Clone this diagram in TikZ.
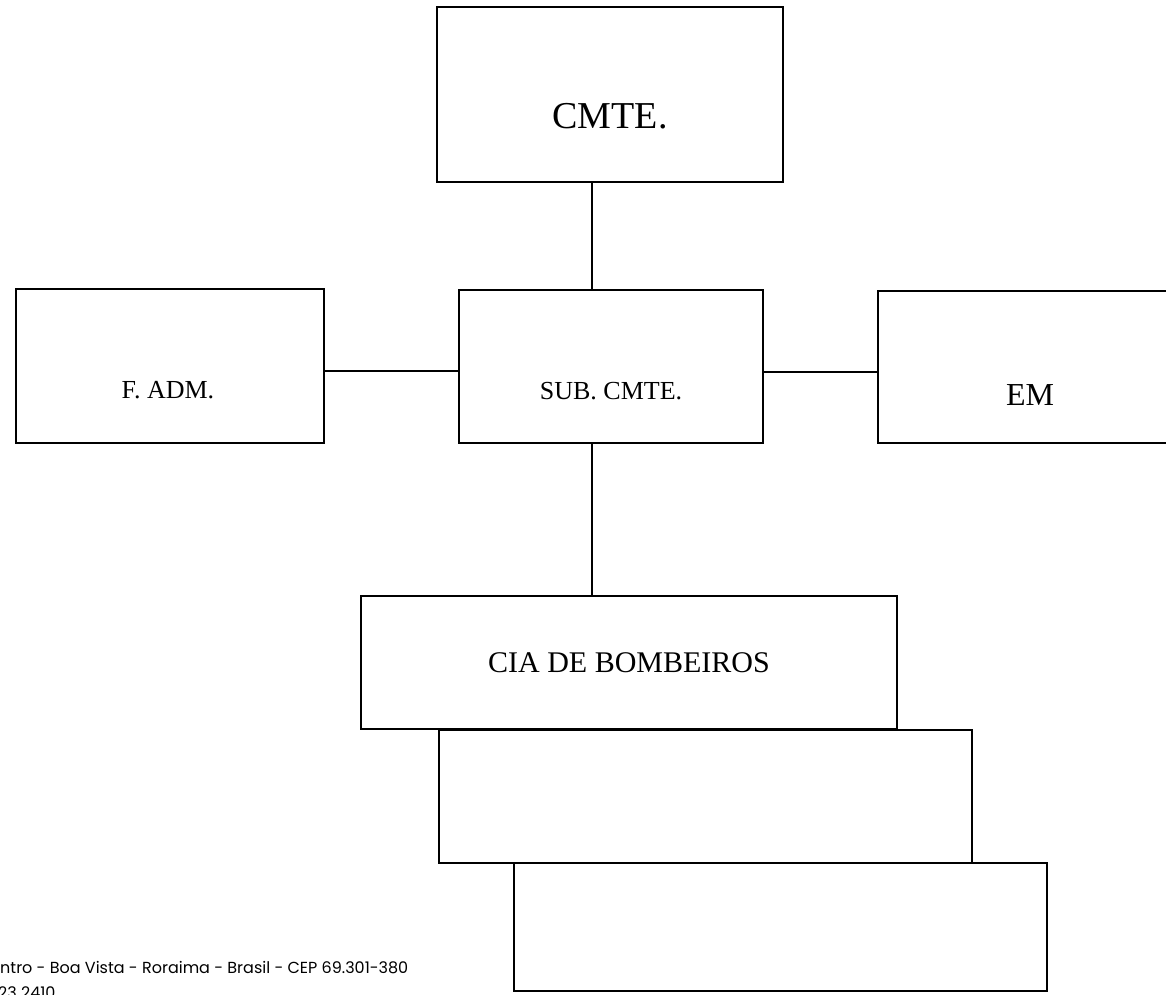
\documentclass[tikz,border=0pt]{standalone}
\usepackage{fontspec}
\setmainfont{Liberation Serif}
\newfontfamily\footfont{Poppins}
\begin{document}
\begin{tikzpicture}[x=1pt,y=-1pt,
  orgbox/.style={draw=black, line width=1.6pt, rectangle, inner sep=0pt, fill=white},
  link/.style={draw=black, line width=1.6pt},
  boxtext/.style={anchor=base, inner sep=0pt},
  foot/.style={anchor=base west, inner sep=0pt, font=\footfont\fontsize{16}{19}\selectfont}]
\useasboundingbox (0,0) rectangle (1166,994);
\clip (0,0) rectangle (1166,994);

% boxes (centre, width, height)
\node[orgbox, minimum width=346pt, minimum height=175pt] (cmte) at (610,94.5) {};
\node[orgbox, minimum width=308pt, minimum height=154pt] (fadm) at (170,366) {};
\node[orgbox, minimum width=304pt, minimum height=153pt] (sub)  at (611,366.5) {};
\node[orgbox, minimum width=302pt, minimum height=152pt] (em)   at (1029,367) {};
\node[orgbox, minimum width=536pt, minimum height=133pt] (cia)  at (629,662.5) {};
\node[orgbox, minimum width=533pt, minimum height=133pt] (b2)   at (705.5,796.5) {};
\node[orgbox, minimum width=533pt, minimum height=128pt] (b3)   at (780.5,927) {};

% labels
\node[boxtext, font=\fontsize{38}{44}\selectfont] (cmtet) at (610,128) {CMTE.};
\node[boxtext, font=\fontsize{26}{30}\selectfont] (fadmt) at (168,398) {F. ADM.};
\node[boxtext, font=\fontsize{26}{30}\selectfont] (subt)  at (611,399) {SUB. CMTE.};
\node[boxtext, font=\fontsize{32}{38}\selectfont] (emt)   at (1030,405) {EM};
\node[boxtext, font=\fontsize{30}{36}\selectfont] (ciat)  at (629,672) {CIA DE BOMBEIROS};

% connectors
\coordinate (spine) at (592,0);
\coordinate (lrow) at (0,371);
\coordinate (rrow) at (0,372);
\draw[link] (cmte.south -| spine) -- (sub.north -| spine);
\draw[link] (sub.south -| spine) -- (cia.north -| spine);
\draw[link] (fadm.east |- lrow) -- (sub.west |- lrow);
\draw[link] (sub.east |- rrow) -- (em.west |- rrow);

% footer address lines
\node[foot] (addr) at (0,973) {ntro - Boa Vista - Roraima - Brasil - CEP 69.301-380};
\node[foot] (phone) at (-2,998) {23 2410};
\end{tikzpicture}
\end{document}
